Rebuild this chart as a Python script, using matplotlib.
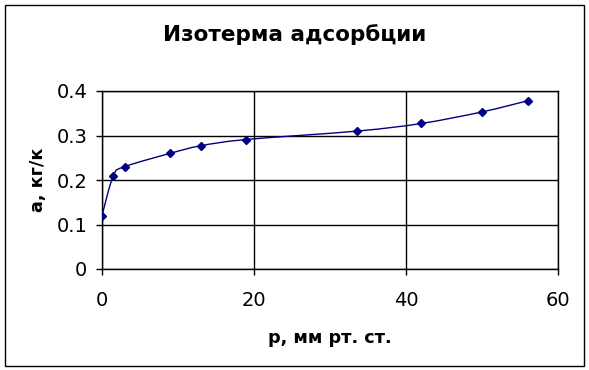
import numpy as np
from matplotlib import pyplot as plt
from matplotlib.patches import Rectangle
from matplotlib.path import Path
from matplotlib.patches import PathPatch

# давление, мм рт. ст. и адсорбция
p_values = [0, 1.5, 3, 9, 13, 19, 33.6, 42, 50, 56]
a_values = [0.12, 0.21, 0.23, 0.26, 0.277, 0.291, 0.31, 0.327, 0.353, 0.378]
x_ticks = [0, 20, 40, 60]
y_ticks = [0, 0.1, 0.2, 0.3, 0.4]
y_tick_labels = ['0', '0.1', '0.2', '0.3', '0.4']

title_text = 'Изотерма адсорбции'
x_label = 'р, мм рт. ст.'
y_label = 'а, кг/к'

navy = '#000080'

plt.rcParams['font.family'] = ['DejaVu Sans']

fig = plt.figure(figsize=(5.89, 3.70), dpi=100)
fig.patch.set_facecolor('white')
ax = fig.add_axes([102/589, 1-269/370, 456/589, 178/370])

# сглаженная линия как в Excel (безье с касательными Катмулла-Рома)
def smooth_path(xs, ys):
    pts = np.column_stack([xs, ys])
    verts = [pts[0]]
    codes = [Path.MOVETO]
    n = len(pts)
    for i in range(n - 1):
        p0 = pts[i - 1] if i > 0 else pts[i]
        p1 = pts[i]
        p2 = pts[i + 1]
        p3 = pts[i + 2] if i + 2 < n else pts[i + 1]
        c1 = p1 + (p2 - p0) / 6.0
        c2 = p2 - (p3 - p1) / 6.0
        verts += [c1, c2, p2]
        codes += [Path.CURVE4] * 3
    return PathPatch(Path(verts, codes), facecolor='none', edgecolor=navy, lw=1.0, zorder=3)

ax.add_patch(smooth_path(np.array(p_values, float), np.array(a_values, float)))
ax.plot(p_values, a_values, linestyle='none', marker='D', markersize=4.5,
        color=navy, zorder=4)

ax.set_xlim(0, 60)
ax.set_ylim(0, 0.4)
ax.set_xticks(x_ticks)
ax.set_yticks(y_ticks)
ax.set_yticklabels(y_tick_labels)
ax.grid(True, color='black', lw=1.0)
ax.set_axisbelow(True)
for s in ax.spines.values():
    s.set_color('black')
    s.set_linewidth(1.0)
ax.tick_params(direction='out', length=4.5, width=1, labelsize=14, pad=6)
ax.tick_params(axis='x', pad=11)

ax.set_xlabel(x_label, fontsize=12.7, fontweight='bold', labelpad=14)
ax.set_ylabel(y_label, fontsize=12.7, fontweight='bold', labelpad=7)
fig.text(0.5, 1-35/370, title_text, ha='center', va='center',
         fontsize=15.5, fontweight='bold')

fig.patches.append(Rectangle((5/589, 1-366/370), 579/589, 361/370,
                             transform=fig.transFigure, fill=False,
                             edgecolor='black', lw=1.0))

fig.savefig('out.png', dpi=100)
